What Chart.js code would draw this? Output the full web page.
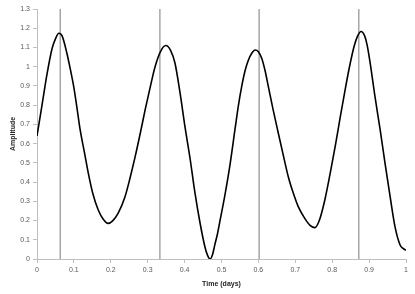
<!DOCTYPE html>
<html>
<head>
<meta charset="utf-8">
<script src="https://cdn.jsdelivr.net/npm/chart.js@4.4.1/dist/chart.umd.min.js"></script>
<style>
  html, body { margin: 0; padding: 0; background: #fff; }
  #wrap { width: 415px; height: 294px; }
</style>
</head>
<body>
<div id="wrap"><canvas id="chart" width="415" height="294"></canvas></div>
<script>
// Amplitude trace
const timeDays = [
  0, 0.0136, 0.027, 0.041, 0.05, 0.059, 0.068, 0.081, 0.09, 0.0995, 0.108, 0.117, 0.128, 0.139, 0.152, 0.166,
  0.18, 0.193, 0.205, 0.22, 0.2385, 0.252, 0.266, 0.28, 0.293, 0.307, 0.32, 0.335, 0.349, 0.362, 0.374,
  0.388, 0.401, 0.415, 0.428, 0.442, 0.455, 0.462, 0.469, 0.476, 0.482, 0.489, 0.496, 0.509, 0.523, 0.537,
  0.546, 0.555, 0.564, 0.573, 0.582, 0.591, 0.6, 0.609, 0.618, 0.627, 0.64, 0.654, 0.668, 0.681, 0.695,
  0.708, 0.726, 0.74, 0.753, 0.765, 0.78, 0.794, 0.808, 0.822, 0.835, 0.848, 0.86, 0.869, 0.878, 0.888,
  0.895, 0.902, 0.916, 0.93, 0.943, 0.957, 0.97, 0.984, 0.992, 1.0
];
const amplitude = [
  0.64, 0.8, 0.96, 1.096, 1.145, 1.174, 1.16, 1.07, 0.99, 0.896, 0.79, 0.671, 0.56, 0.447, 0.335, 0.255,
  0.205, 0.185, 0.198, 0.238, 0.324, 0.42, 0.532, 0.655, 0.775, 0.895, 1.0, 1.08, 1.11, 1.085, 1.018,
  0.86, 0.688, 0.52, 0.345, 0.186, 0.064, 0.02, 0.0, 0.025, 0.075, 0.13, 0.2, 0.33, 0.49, 0.68,
  0.8, 0.9, 0.98, 1.035, 1.07, 1.087, 1.078, 1.044, 0.98, 0.896, 0.775, 0.654, 0.535, 0.428, 0.34,
  0.272, 0.21, 0.175, 0.163, 0.2, 0.307, 0.44, 0.584, 0.74, 0.88, 1.01, 1.11, 1.16, 1.183, 1.16,
  1.11, 1.03, 0.844, 0.671, 0.5, 0.324, 0.17, 0.073, 0.055, 0.045
];
// vertical marker lines (days)
const markerDays = [0.063, 0.333, 0.602, 0.872];

const xTicks = [0, 0.1, 0.2, 0.3, 0.4, 0.5, 0.6, 0.7, 0.8, 0.9, 1];
const yMin = 0, yMax = 1.3;

const tickFont = { family: "'Liberation Sans', sans-serif", size: 7 };
const titleFont = { family: "'Liberation Sans', sans-serif", size: 7, weight: 'bold' };
const axisGray = '#bfbfbf';

const curve = timeDays.map((t, i) => ({ x: t, y: amplitude[i] }));

const datasets = markerDays.map(d => ({
  data: [{ x: d, y: yMin }, { x: d, y: yMax }],
  borderColor: '#a6a6a6',
  borderWidth: 1.5,
  pointRadius: 0,
  order: 2
}));
datasets.push({
  data: curve,
  borderColor: '#000',
  borderWidth: 1.6,
  pointRadius: 0,
  cubicInterpolationMode: 'monotone',
  order: 1
});

new Chart(document.getElementById('chart'), {
  type: 'line',
  data: { datasets },
  options: {
    responsive: false,
    animation: false,
    layout: { padding: { top: 9, right: 9, left: 0, bottom: 0 } },
    plugins: { legend: { display: false }, tooltip: { enabled: false } },
    scales: {
      x: {
        type: 'linear',
        min: 0, max: 1,
        afterBuildTicks: s => { s.ticks = xTicks.map(v => ({ value: v })); },
        afterFit: s => { s.height = 35; },
        ticks: {
          font: tickFont, color: '#595959', padding: 3, maxRotation: 0,
          callback: v => String(+v.toFixed(1))
        },
        grid: { drawOnChartArea: false, drawTicks: true, tickLength: 4, color: axisGray },
        border: { color: axisGray, width: 1 },
        title: { display: true, text: 'Time (days)', font: titleFont, color: '#262626', padding: { top: 0, bottom: 6 } }
      },
      y: {
        min: yMin, max: yMax,
        afterFit: s => { s.width = 37; },
        ticks: {
          stepSize: 0.1, font: tickFont, color: '#595959', padding: 3,
          callback: v => String(+v.toFixed(1))
        },
        grid: { drawOnChartArea: false, drawTicks: true, tickLength: 4, color: axisGray },
        border: { color: axisGray, width: 1 },
        title: { display: true, text: 'Amplitude', font: titleFont, color: '#262626', padding: { top: 9, bottom: 0 } }
      }
    }
  }
});
</script>
</body>
</html>
